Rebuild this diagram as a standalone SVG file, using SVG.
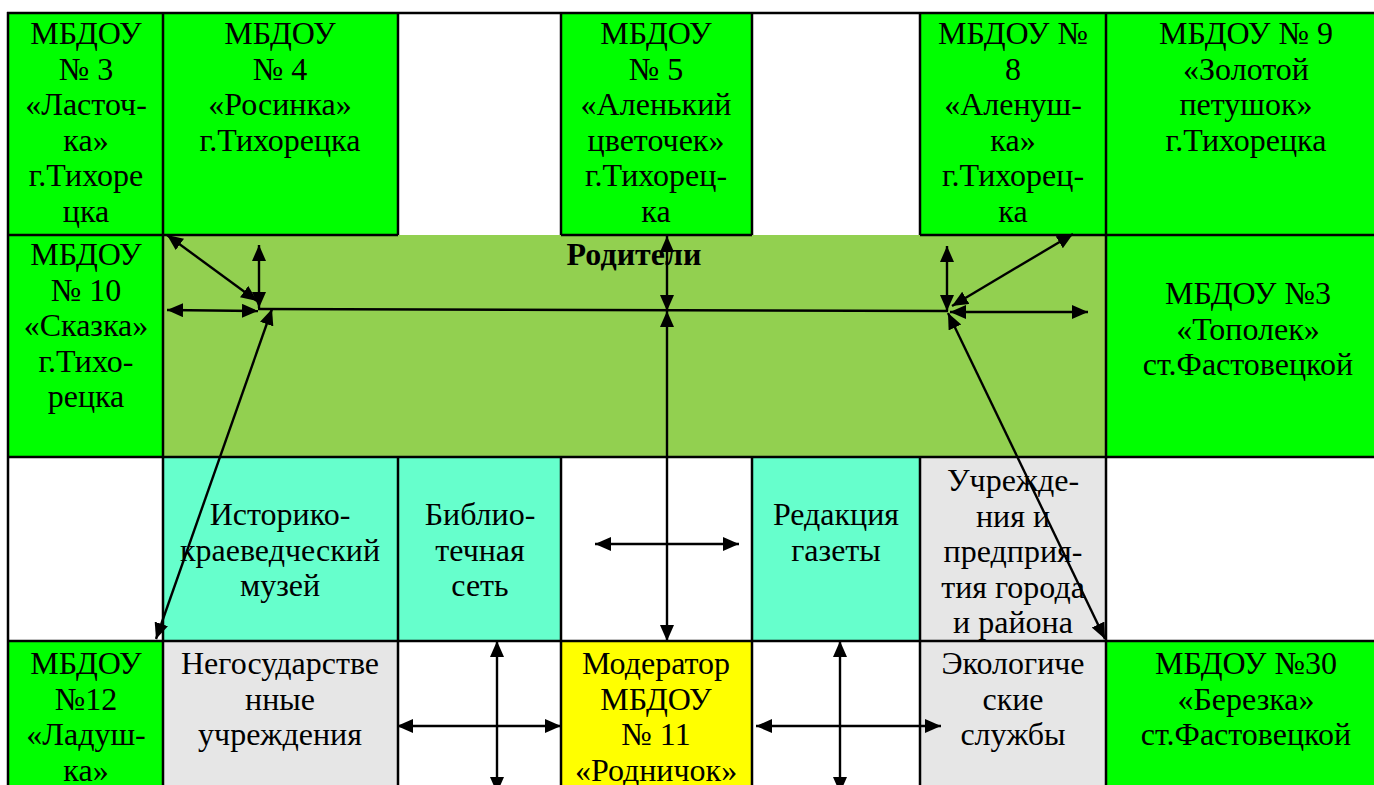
<svg xmlns="http://www.w3.org/2000/svg" width="1374" height="785" viewBox="0 0 1374 785">
<style>
text{font-family:"Liberation Serif","Times New Roman",serif;font-size:32px;fill:#000;text-anchor:middle}
.b{font-weight:bold}
.g{fill:#00FF00}.o{fill:#92D050}.a{fill:#66FFCC}.y{fill:#FFFF00}.l{fill:#E6E6E6}.w{fill:#FFFFFF}
.grid line{stroke:#000;stroke-width:2.5}
.con line{stroke:#000;stroke-width:2.4;fill:none}
</style>
<defs>
<marker id="ah" markerUnits="userSpaceOnUse" markerWidth="17" markerHeight="15" refX="16" refY="7" orient="auto-start-reverse" viewBox="0 0 17 15">
<path d="M0,0 L16,7 L0,14 z" fill="#000"/>
</marker>
</defs>
<rect x="0" y="0" width="1374" height="785" fill="#fff"/>

<g id="n-mbdou3"><rect class="g" x="8" y="13" width="155" height="222"/>
<text x="86" y="44">МБДОУ<tspan x="86" dy="35.5">№ 3</tspan><tspan x="86" dy="35.5">«Ласточ-</tspan><tspan x="86" dy="35.5">ка»</tspan><tspan x="86" dy="35.5">г.Тихоре</tspan><tspan x="86" dy="35.5">цка</tspan></text></g>
<g id="n-mbdou4"><rect class="g" x="163" y="13" width="235" height="222"/>
<text x="280" y="44">МБДОУ<tspan x="280" dy="35.5">№ 4</tspan><tspan x="280" dy="35.5">«Росинка»</tspan><tspan x="280" dy="35.5">г.Тихорецка</tspan></text></g>
<g id="n-mbdou5"><rect class="g" x="561" y="13" width="191" height="222"/>
<text x="656" y="44">МБДОУ<tspan x="656" dy="35.5">№ 5</tspan><tspan x="656" dy="35.5">«Аленький</tspan><tspan x="656" dy="35.5">цветочек»</tspan><tspan x="656" dy="35.5">г.Тихорец-</tspan><tspan x="656" dy="35.5">ка</tspan></text></g>
<g id="n-mbdou8"><rect class="g" x="920" y="13" width="186" height="222"/>
<text x="1013" y="44">МБДОУ №<tspan x="1013" dy="35.5">8</tspan><tspan x="1013" dy="35.5">«Аленуш-</tspan><tspan x="1013" dy="35.5">ка»</tspan><tspan x="1013" dy="35.5">г.Тихорец-</tspan><tspan x="1013" dy="35.5">ка</tspan></text></g>
<g id="n-mbdou9"><rect class="g" x="1106" y="13" width="268" height="222"/>
<text x="1246" y="44">МБДОУ № 9<tspan x="1246" dy="35.5">«Золотой</tspan><tspan x="1246" dy="35.5">петушок»</tspan><tspan x="1246" dy="35.5">г.Тихорецка</tspan></text></g>

<g id="n-mbdou10"><rect class="g" x="8" y="235" width="155" height="222"/>
<text x="86" y="265">МБДОУ<tspan x="86" dy="35.5">№ 10</tspan><tspan x="86" dy="35.5">«Сказка»</tspan><tspan x="86" dy="35.5">г.Тихо-</tspan><tspan x="86" dy="35.5">рецка</tspan></text></g>
<g id="n-roditeli"><rect class="o" x="163" y="235" width="943" height="222"/>
<text class="b" x="634" y="265">Родители</text></g>
<g id="n-topolek"><rect class="g" x="1106" y="235" width="268" height="222"/>
<text x="1248" y="304">МБДОУ №3<tspan x="1248" dy="35.5">«Тополек»</tspan><tspan x="1248" dy="35.5">ст.Фастовецкой</tspan></text></g>

<g id="n-muzei"><rect class="a" x="163" y="457" width="235" height="184"/>
<text x="280" y="525">Историко-<tspan x="280" dy="35.5">краеведческий</tspan><tspan x="280" dy="35.5">музей</tspan></text></g>
<g id="n-biblio"><rect class="a" x="398" y="457" width="163" height="184"/>
<text x="480" y="525">Библио-<tspan x="480" dy="35.5">течная</tspan><tspan x="480" dy="35.5">сеть</tspan></text></g>
<g id="n-gazeta"><rect class="a" x="752" y="457" width="168" height="184"/>
<text x="836" y="525">Редакция<tspan x="836" dy="35.5">газеты</tspan></text></g>
<g id="n-uchrezh"><rect class="l" x="920" y="457" width="186" height="184"/>
<text x="1013" y="491">Учрежде-<tspan x="1013" dy="35.5">ния и</tspan><tspan x="1013" dy="35.5">предприя-</tspan><tspan x="1013" dy="35.5">тия города</tspan><tspan x="1013" dy="35.5">и района</tspan></text></g>

<g id="n-mbdou12"><rect class="g" x="8" y="641" width="155" height="144"/>
<text x="86" y="674">МБДОУ<tspan x="86" dy="35.5">№12</tspan><tspan x="86" dy="35.5">«Ладуш-</tspan><tspan x="86" dy="35.5">ка»</tspan></text></g>
<g id="n-negos"><rect class="l" x="163" y="641" width="235" height="144"/>
<text x="280" y="674">Негосударстве<tspan x="280" dy="35.5">нные</tspan><tspan x="280" dy="35.5">учреждения</tspan></text></g>
<g id="n-moderator"><rect class="y" x="561" y="641" width="191" height="144"/>
<text x="656" y="674">Модератор<tspan x="656" dy="35.5">МБДОУ</tspan><tspan x="656" dy="35.5">№ 11</tspan><tspan x="656" dy="35.5">«Родничок»</tspan></text></g>
<g id="n-ekolog"><rect class="l" x="920" y="641" width="186" height="144"/>
<text x="1013" y="674">Экологиче<tspan x="1013" dy="35.5">ские</tspan><tspan x="1013" dy="35.5">службы</tspan></text></g>
<g id="n-berezka"><rect class="g" x="1106" y="641" width="268" height="144"/>
<text x="1246" y="674">МБДОУ №30<tspan x="1246" dy="35.5">«Березка»</tspan><tspan x="1246" dy="35.5">ст.Фастовецкой</tspan></text></g>

<g class="grid" id="grid">
<line x1="7" y1="13" x2="1374" y2="13"/>
<line x1="7" y1="235" x2="398" y2="235"/>
<line x1="561" y1="235" x2="752" y2="235"/>
<line x1="920" y1="235" x2="1374" y2="235"/>
<line x1="7" y1="457" x2="1374" y2="457"/>
<line x1="7" y1="641" x2="1374" y2="641"/>
<line x1="8" y1="12" x2="8" y2="785"/>
<line x1="163" y1="12" x2="163" y2="785"/>
<line x1="398" y1="12" x2="398" y2="235"/>
<line x1="561" y1="12" x2="561" y2="235"/>
<line x1="752" y1="12" x2="752" y2="235"/>
<line x1="920" y1="12" x2="920" y2="235"/>
<line x1="398" y1="457" x2="398" y2="785"/>
<line x1="561" y1="457" x2="561" y2="785"/>
<line x1="752" y1="457" x2="752" y2="785"/>
<line x1="920" y1="457" x2="920" y2="785"/>
<line x1="1106" y1="12" x2="1106" y2="785"/>
</g>

<g class="con" id="connectors">
<line x1="167" y1="235" x2="257" y2="301" marker-start="url(#ah)" marker-end="url(#ah)"/>
<line x1="259" y1="245" x2="259" y2="308" marker-start="url(#ah)" marker-end="url(#ah)"/>
<line x1="167" y1="310" x2="258" y2="311" marker-start="url(#ah)" marker-end="url(#ah)"/>
<line x1="258" y1="309" x2="948" y2="311"/>
<line x1="272" y1="309" x2="156" y2="639" marker-start="url(#ah)" marker-end="url(#ah)"/>
<line x1="667" y1="236" x2="667" y2="311" marker-start="url(#ah)" marker-end="url(#ah)"/>
<line x1="667" y1="311" x2="667" y2="641" marker-start="url(#ah)" marker-end="url(#ah)"/>
<line x1="947" y1="246" x2="947" y2="311" marker-start="url(#ah)" marker-end="url(#ah)"/>
<line x1="1073" y1="234" x2="952" y2="306" marker-start="url(#ah)" marker-end="url(#ah)"/>
<line x1="950" y1="312" x2="1088" y2="312" marker-start="url(#ah)" marker-end="url(#ah)"/>
<line x1="948" y1="313" x2="1105" y2="639" marker-start="url(#ah)" marker-end="url(#ah)"/>
<line x1="595" y1="544" x2="739" y2="544" marker-start="url(#ah)" marker-end="url(#ah)"/>
<line x1="397" y1="726" x2="561" y2="726" marker-start="url(#ah)" marker-end="url(#ah)"/>
<line x1="497" y1="641" x2="497" y2="793" marker-start="url(#ah)" marker-end="url(#ah)"/>
<line x1="756" y1="726" x2="941" y2="726" marker-start="url(#ah)" marker-end="url(#ah)"/>
<line x1="840" y1="641" x2="840" y2="793" marker-start="url(#ah)" marker-end="url(#ah)"/>
</g>
</svg>
